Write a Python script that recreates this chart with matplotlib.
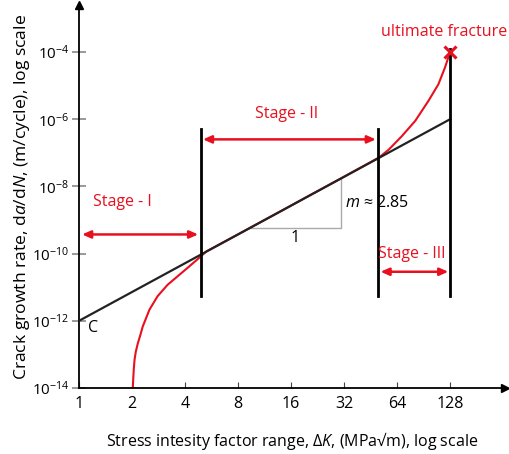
import matplotlib
matplotlib.use("Agg")
import matplotlib.pyplot as plt

plt.rcParams["font.family"] = ["Open Sans", "DejaVu Sans"]
plt.rcParams["mathtext.fontset"] = "custom"
plt.rcParams["mathtext.rm"] = "Open Sans"
plt.rcParams["mathtext.it"] = "Open Sans:italic"

# Paris law fit line (C = 1e-12, m ~ 2.85)
fit_k = [1, 128]
fit_rate = [1e-12, 1e-6]

curve_k = [2.02, 2.03, 2.045, 2.066, 2.1, 2.157, 2.23, 2.30, 2.51, 2.79, 3.18, 3.62,
           4.12, 4.8, 5.3, 7, 10, 15, 20, 30, 40, 50.5, 57.5, 68.2, 81.1, 96.5,
           109.8, 119.7, 128]
curve_log_rate = [-14.0, -13.75, -13.45, -13.16, -12.92, -12.67, -12.42, -12.17,
                  -11.67, -11.27, -10.93, -10.68, -10.43, -10.13, -9.93, -9.59,
                  -9.15, -8.65, -8.29, -7.79, -7.43, -7.14, -6.90, -6.50, -6.05,
                  -5.45, -4.96, -4.46, -4.0]
curve_rate = [10**v for v in curve_log_rate]

x_ticks = [1, 2, 4, 8, 16, 32, 64, 128]
y_ticks = [1e-14, 1e-12, 1e-10, 1e-8, 1e-6, 1e-4]
y_labels = ["$10^{-14}$", "$10^{-12}$", "$10^{-10}$", "$10^{-8}$", "$10^{-6}$", "$10^{-4}$"]

# stage boundaries
bounds = [4.9, 50, 128]
bound_bottom = 10**-11.25
bound_top = [10**-6.3, 10**-6.3, 10**-3.9]

red = "#e8101e"

fig = plt.figure(figsize=(5.1, 4.54), dpi=100)
ax = fig.add_axes([0.155, 0.1454, 0.835, 0.8436])
ax.set_xscale("log", base=2)
ax.set_yscale("log")
ax.set_xlim(1, 262)
ax.set_ylim(1e-14, 10**-2.6)

for s in ["top", "right"]:
    ax.spines[s].set_visible(False)
for s in ["left", "bottom"]:
    ax.spines[s].set_linewidth(1.3)
ax.plot(1, 0, ">k", ms=6, transform=ax.transAxes, clip_on=False)
ax.plot(0, 1, "^k", ms=6, transform=ax.transAxes, clip_on=False)

ax.set_xticks(x_ticks)
ax.set_xticklabels([str(v) for v in x_ticks])
ax.xaxis.set_minor_locator(matplotlib.ticker.NullLocator())
ax.set_yticks(y_ticks)
ax.set_yticklabels(y_labels)
ax.yaxis.set_minor_locator(matplotlib.ticker.NullLocator())
ax.tick_params(axis="x", direction="in", length=4.5, width=0.8, color="#444444",
               labelsize=11.5, pad=6)
ax.tick_params(axis="y", direction="inout", length=10, width=1.2, color="#888888",
               labelsize=11, pad=2)

ax.plot(fit_k, fit_rate, color="#222222", lw=1.6, zorder=3)
ax.plot(curve_k, curve_rate, color=red, lw=1.5, zorder=2)
ax.plot(128, 1e-4, marker="x", color=red, ms=9, mew=2.2, zorder=4)

for b, top in zip(bounds, bound_top):
    ax.plot([b, b], [bound_bottom, top], color="black", lw=2, zorder=3)

# slope triangle
ax.plot([9.37, 30.7, 30.7], [10**-9.23, 10**-9.23, 10**-7.76], color="#aaaaaa", lw=1, zorder=1)
ax.text(16.8, 10**-9.55, "1", fontsize=11.5, ha="center", va="center")
ax.text(32.5, 10**-8.48, r"$m$ ≈ 2.85", fontsize=11.5, ha="left", va="center")
ax.text(1.13, 10**-12.2, "C", fontsize=11.5, ha="left", va="center")

arrow = dict(arrowstyle="<|-|>,head_length=0.5,head_width=0.22", color=red, lw=1.8,
             shrinkA=0, shrinkB=0)
ax.annotate("", xy=(1.04, 10**-9.43), xytext=(4.75, 10**-9.43), arrowprops=arrow)
ax.annotate("", xy=(5.05, 10**-6.6), xytext=(48.5, 10**-6.6), arrowprops=arrow)
ax.annotate("", xy=(51.5, 10**-10.54), xytext=(125, 10**-10.54), arrowprops=arrow)
ax.text(1.77, 10**-8.45, "Stage - I", color=red, fontsize=11.5, ha="center", va="center")
ax.text(15, 10**-5.85, "Stage - II", color=red, fontsize=11.5, ha="center", va="center")
ax.text(78, 10**-10.0, "Stage - III", color=red, fontsize=11.5, ha="center", va="center")
ax.text(118, 10**-3.4, "ultimate fracture", color=red, fontsize=11.5, ha="center",
        va="center", clip_on=False)

ax.set_xlabel(r"Stress intesity factor range, Δ$K$, (MPa√m), log scale", fontsize=11.5, labelpad=13)
ax.set_ylabel(r"Crack growth rate, d$a$/d$N$, (m/cycle), log scale", fontsize=12.6, labelpad=0)

fig.savefig("out.png", dpi=100)
